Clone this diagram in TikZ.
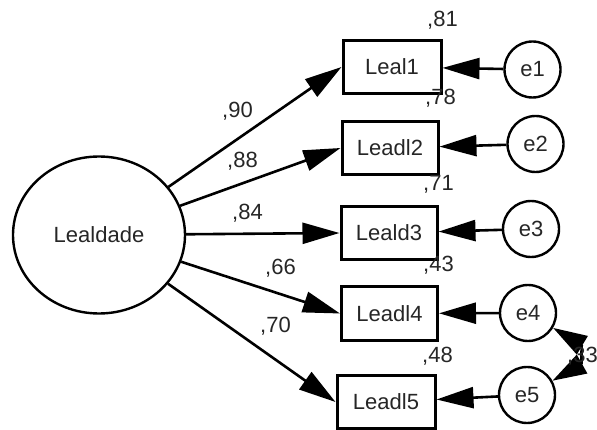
\documentclass[tikz,border=0pt]{standalone}
\usepackage{fontspec}
\setmainfont{Liberation Sans}
\usetikzlibrary{arrows.meta,shapes.geometric}
\begin{document}
\begin{tikzpicture}[x=1pt,y=-1pt,
  every node/.style={font=\fontsize{22}{25}\selectfont, text=black!85},
  obs/.style={draw, line width=3pt, minimum width=96pt, minimum height=53pt, inner sep=0},
  err/.style={draw, circle, line width=2.4pt, minimum size=56pt, inner sep=0},
  lat/.style={draw, ellipse, line width=2.4pt, minimum width=172pt, minimum height=157pt, inner sep=0},
  pth/.style={line width=2.6pt, -{Triangle[length=37pt,width=21pt]}},
  cov/.style={line width=2.6pt, {Triangle[length=34pt,width=21pt]}-{Triangle[length=34pt,width=21pt]}},
  lbl/.style={inner sep=0, anchor=base west}
]
\useasboundingbox (0,0) rectangle (597,430);

\node[lat] (L) at (99,235) {Lealdade};

\node[obs, minimum width=98pt] (x1) at (392,67) {Leal1};
\node[obs] (x2) at (390,148) {Leadl2};
\node[obs] (x3) at (389,233) {Leald3};
\node[obs] (x4) at (389.5,313.5) {Leadl4};
\node[obs, minimum width=98pt] (x5) at (386,402) {Leadl5};

\node[err] (e1) at (532.5,69.5) {e1};
\node[err] (e2) at (535.5,144) {e2};
\node[err] (e3) at (531,229) {e3};
\node[err] (e4) at (528,313) {e4};
\node[err] (e5) at (527,395) {e5};

\foreach \i in {1,...,5} {
  \draw[pth] (L) -- (x\i.west);
  \draw[pth] (e\i) -- (x\i);
}

\draw[cov] (e4) to[bend left=60, looseness=1.6] (e5);

\node[lbl] (l1) at (222,118) {,90};
\node[lbl] (l2) at (227,168) {,88};
\node[lbl] (l3) at (232,220) {,84};
\node[lbl] (l4) at (265,275) {,66};
\node[lbl] (l5) at (260,332) {,70};

\node[lbl] (r1) at (427,27) {,81};
\node[lbl] (r2) at (425,105) {,78};
\node[lbl] (r3) at (423,191) {,71};
\node[lbl] (r4) at (423,272) {,43};
\node[lbl] (r5) at (422,362) {,48};

\node[lbl] (c45) at (567,362) {,33};
\end{tikzpicture}
\end{document}
